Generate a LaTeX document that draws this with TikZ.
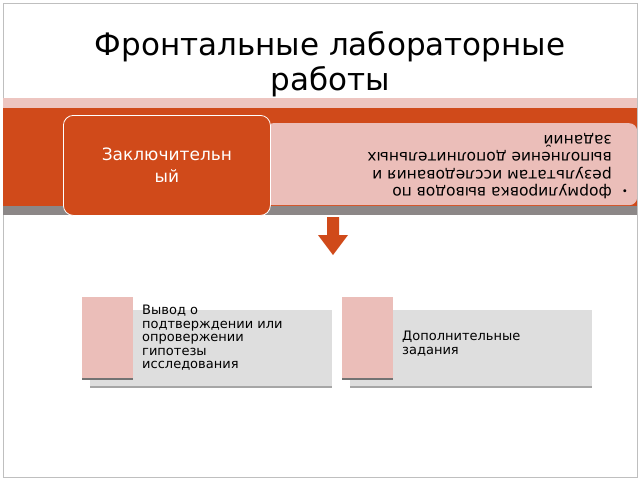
\documentclass[tikz,border=0pt]{standalone}
\usepackage{fontspec}
\setmainfont{DejaVu Sans}
\usetikzlibrary{calc}
\definecolor{rust}{RGB}{208,74,26}
\definecolor{blush}{RGB}{235,190,185}
\definecolor{ash}{RGB}{222,222,222}
\definecolor{slate}{RGB}{140,135,135}

\begin{document}
\begin{tikzpicture}[x=1pt,y=-1pt,
    pinkbox/.style={fill=blush, draw=none},
    greybox/.style={fill=ash, draw=none},
    itemtext/.style={anchor=north west, align=left, font=\fontsize{13}{13.5}\selectfont, inner sep=0pt}]
    % Slide area
    \useasboundingbox (0,0) rectangle (640,480);
    \draw[black!25, fill=white] (3,3) rectangle (637,477);

    % Title
    \node (title) at (330,64) [align=center, font=\fontsize{31}{35}\selectfont] {Фронтальные лабораторные\\работы};

    % Band with stage
    \fill[blush!90!white] (3,98) rectangle (637,108);
    \fill[rust] (3,108) rectangle (637,206);
    \fill[slate] (3,206) rectangle (637,215);
    \node (detail) [fill=blush, rounded corners=8pt, minimum width=372pt, minimum height=82pt, anchor=north west, inner sep=0pt] at (265,123) {};
    \node (stage) [fill=rust, draw=white, thick, rounded corners=10pt, minimum width=207pt, minimum height=100pt, anchor=north west, text=white, align=center, inner sep=0pt, font=\fontsize{17}{22}\selectfont] at (63,115) {Заключительн\\ый};
    \node[itemtext, rotate=180, font=\fontsize{15.5}{17.5}\selectfont] (steps) at (612,199) {формулировка выводов по\\результатам исследования и\\выполнение дополнительных\\заданий};
    \node[rotate=180, inner sep=0pt] (dot) at (625,190) {\textbullet};

    % Arrow down
    \coordinate (tip) at (333,255);
    \fill[rust] (327,217) -- (339,217) -- (339,235) -- (348,235) -- (tip) -- (318,235) -- (327,235) -- cycle;

    % Outcomes
    \foreach \x in {82,342} {
        \fill[black!35] (\x+8,386) rectangle (\x+250,388);
        \fill[greybox] (\x+8,310) rectangle (\x+250,386);
        \fill[black!55] (\x,378) rectangle (\x+51,380);
        \fill[pinkbox] (\x,297) rectangle (\x+51,378);
    }
    \node[itemtext] (concl) at (142,305) {Вывод о\\подтверждении или\\опровержении\\гипотезы\\исследования};
    \node[itemtext] (extra) at (402,331) {Дополнительные\\задания};
\end{tikzpicture}
\end{document}
